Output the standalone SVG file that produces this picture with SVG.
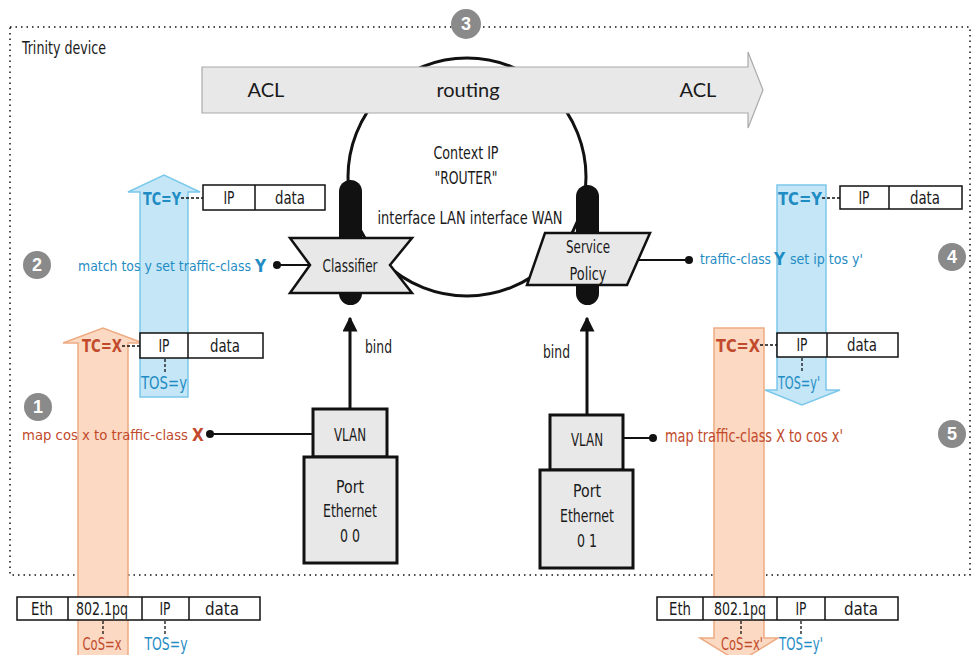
<svg xmlns="http://www.w3.org/2000/svg" width="972" height="655" viewBox="0 0 972 655">
<defs>
<style>
.t{font-family:"DejaVu Sans Condensed","Liberation Sans Narrow","Liberation Sans",sans-serif;font-size:17px;fill:#1a1a1a}
.s{font-size:14px}
.c{text-anchor:middle}
.bl{fill:#1f8cc4}
.rd{fill:#c24a2c}
.bd{font-weight:bold}
.big{font-family:"Lato","Liberation Sans",sans-serif;font-size:20px;fill:#1a1a1a;text-anchor:middle}
.num{font-family:"Liberation Sans",sans-serif;font-weight:bold;font-size:18px;fill:#fff;text-anchor:middle}
.nc{fill:#8a8a8a}
.box{fill:#e8e8e8;stroke:#111;stroke-width:3}
.pk{fill:#fff;stroke:#111;stroke-width:1.5}
.ln{stroke:#111;stroke-width:2;fill:none}
.dash{stroke:#111;stroke-width:1.3;stroke-dasharray:3 2;fill:none}
.blA{fill:#c4e6f6;stroke:#7cc8ea;stroke-width:1.5}
.orA{fill:#fbd9c3;stroke:#eeab82;stroke-width:1.5}
</style>
<marker id="ah" viewBox="0 0 10 10" refX="9" refY="5" markerWidth="5" markerHeight="5" orient="auto"><path d="M0,0 L10,5 L0,10 Z" fill="#111"/></marker>
</defs>
<rect width="972" height="655" fill="#fff"/>
<g id="border">
<rect x="10" y="27" width="960" height="548" fill="none" stroke="#111" stroke-width="1.5" stroke-dasharray="1.5 4"/>
<text class="t" x="22" y="54" textLength="84" lengthAdjust="spacingAndGlyphs">Trinity device</text>
</g>
<g id="context">
<circle cx="467" cy="177" r="119" fill="none" stroke="#111" stroke-width="3"/>
<text class="t c" x="466" y="159" textLength="65" lengthAdjust="spacingAndGlyphs">Context IP</text>
<text class="t c" x="466" y="184" textLength="63" lengthAdjust="spacingAndGlyphs">"ROUTER"</text>
<text class="t c" x="470" y="224" textLength="185" lengthAdjust="spacingAndGlyphs">interface LAN  interface WAN</text>
</g>
<g id="routing-arrow">
<path d="M202,67 H748 V52 L763,90 L748,128 V113 H202 Z" fill="#e8e8e8" stroke="#aaa" stroke-width="1.2"/>
<text class="big" x="266" y="97">ACL</text>
<text class="big" x="468" y="97">routing</text>
<text class="big" x="698" y="97">ACL</text>
</g>
<g id="flow-arrows">
<path class="orA" d="M78,656 V343 H63 L103,328 L143,343 H128 V656 Z"/>
<path class="blA" d="M140,397 V192 H128 L164,175 L200,192 H188 V397 Z"/>
<path class="blA" d="M777,185 V390 H765 L802,405 L840,390 H826 V185 Z"/>
<path class="orA" d="M714,328 V638 H700 L739,662 L778,638 H764 V328 Z"/>
</g>
<g id="connectors">
<line class="ln" x1="279" y1="265" x2="310" y2="265"/>
<circle cx="277" cy="265" r="4" fill="#111"/>
<line class="ln" x1="638" y1="260" x2="687" y2="260"/>
<circle cx="689" cy="260" r="4" fill="#111"/>
<line class="ln" x1="212" y1="434" x2="313" y2="434"/>
<circle cx="210" cy="434" r="4" fill="#111"/>
<line class="ln" x1="623" y1="438" x2="651" y2="438"/>
<circle cx="653" cy="438" r="4" fill="#111"/>
<line x1="350" y1="409" x2="350" y2="318" stroke="#111" stroke-width="3" marker-end="url(#ah)"/>
<line x1="587" y1="415" x2="587" y2="318" stroke="#111" stroke-width="3" marker-end="url(#ah)"/>
<text class="t" x="365" y="353" textLength="27" lengthAdjust="spacingAndGlyphs">bind</text>
<text class="t" x="543" y="358" textLength="27" lengthAdjust="spacingAndGlyphs">bind</text>
<line class="dash" x1="181" y1="198" x2="203" y2="198"/>
<line class="dash" x1="122" y1="346" x2="140" y2="346"/>
<line class="dash" x1="822" y1="198" x2="840" y2="198"/>
<line class="dash" x1="760" y1="345" x2="777" y2="345"/>
<line class="dash" x1="165" y1="359" x2="165" y2="373"/>
<line class="dash" x1="802" y1="358" x2="802" y2="372"/>
<line class="dash" x1="103" y1="621" x2="103" y2="634"/>
<line class="dash" x1="165" y1="621" x2="165" y2="634"/>
<line class="dash" x1="741" y1="621" x2="741" y2="634"/>
<line class="dash" x1="801" y1="621" x2="801" y2="634"/>
</g>
<g id="pill-lan"><rect x="339" y="180" width="23" height="125" rx="11.5" fill="#111"/></g>
<g id="pill-wan"><rect x="576" y="185" width="23" height="120" rx="11.5" fill="#111"/></g>
<g id="classifier">
<polygon points="290,238 412,238 390,265 412,293 290,293 310,265" fill="#e8e8e8" stroke="#111" stroke-width="2.5"/>
<text class="t c" x="350" y="272" textLength="55" lengthAdjust="spacingAndGlyphs">Classifier</text>
</g>
<g id="service-policy">
<polygon points="545,233 650,233 627,285 527,285" fill="#e8e8e8" stroke="#111" stroke-width="2.5"/>
<text class="t c" x="588" y="253" textLength="44" lengthAdjust="spacingAndGlyphs">Service</text>
<text class="t c" x="588" y="280" textLength="37" lengthAdjust="spacingAndGlyphs">Policy</text>
</g>
<g id="vlan-00"><rect class="box" x="313" y="409" width="74" height="48"/><text class="t c" x="350" y="441" textLength="32" lengthAdjust="spacingAndGlyphs">VLAN</text></g>
<g id="port-00"><rect class="box" x="304" y="457" width="93" height="106"/>
<text class="t c" x="350" y="493" textLength="28" lengthAdjust="spacingAndGlyphs">Port</text><text class="t c" x="350" y="517" textLength="54" lengthAdjust="spacingAndGlyphs">Ethernet</text><text class="t c" x="350" y="542" textLength="20" lengthAdjust="spacingAndGlyphs">0 0</text></g>
<g id="vlan-01"><rect class="box" x="550" y="415" width="73" height="55"/><text class="t c" x="587" y="446" textLength="32" lengthAdjust="spacingAndGlyphs">VLAN</text></g>
<g id="port-01"><rect class="box" x="540" y="470" width="93" height="98"/>
<text class="t c" x="587" y="497" textLength="28" lengthAdjust="spacingAndGlyphs">Port</text><text class="t c" x="587" y="522" textLength="54" lengthAdjust="spacingAndGlyphs">Ethernet</text><text class="t c" x="587" y="547" textLength="20" lengthAdjust="spacingAndGlyphs">0 1</text></g>
<g id="pkt-tl">
<rect class="pk" x="203" y="185" width="122" height="25"/><line class="pk" x1="255" y1="185" x2="255" y2="210"/>
<text class="t c" x="229" y="204" textLength="11" lengthAdjust="spacingAndGlyphs">IP</text><text class="t c" x="290" y="204" textLength="30" lengthAdjust="spacingAndGlyphs">data</text>
</g>
<g id="pkt-ml">
<rect class="pk" x="140" y="333" width="123" height="25"/><line class="pk" x1="188" y1="333" x2="188" y2="358"/>
<text class="t c" x="164" y="352" textLength="11" lengthAdjust="spacingAndGlyphs">IP</text><text class="t c" x="225" y="352" textLength="30" lengthAdjust="spacingAndGlyphs">data</text>
</g>
<g id="pkt-tr">
<rect class="pk" x="840" y="186" width="122" height="23"/><line class="pk" x1="889" y1="186" x2="889" y2="209"/>
<text class="t c" x="864" y="204" textLength="11" lengthAdjust="spacingAndGlyphs">IP</text><text class="t c" x="925" y="204" textLength="30" lengthAdjust="spacingAndGlyphs">data</text>
</g>
<g id="pkt-mr">
<rect class="pk" x="777" y="333" width="121" height="24"/><line class="pk" x1="827" y1="333" x2="827" y2="357"/>
<text class="t c" x="802" y="351" textLength="11" lengthAdjust="spacingAndGlyphs">IP</text><text class="t c" x="862" y="351" textLength="30" lengthAdjust="spacingAndGlyphs">data</text>
</g>
<g id="pkt-bl">
<rect class="pk" x="17" y="597" width="243" height="23"/>
<line class="pk" x1="68" y1="597" x2="68" y2="620"/><line class="pk" x1="142" y1="597" x2="142" y2="620"/><line class="pk" x1="189" y1="597" x2="189" y2="620"/>
<text class="t c" x="42" y="615" textLength="22" lengthAdjust="spacingAndGlyphs">Eth</text><text class="t c" x="102" y="615" textLength="52" lengthAdjust="spacingAndGlyphs">802.1pq</text><text class="t c" x="165" y="615" textLength="11" lengthAdjust="spacingAndGlyphs">IP</text><text class="t c" x="222" y="615" textLength="34" lengthAdjust="spacingAndGlyphs">data</text>
</g>
<g id="pkt-br">
<rect class="pk" x="657" y="597" width="241" height="23"/>
<line class="pk" x1="703" y1="597" x2="703" y2="620"/><line class="pk" x1="777" y1="597" x2="777" y2="620"/><line class="pk" x1="825" y1="597" x2="825" y2="620"/>
<text class="t c" x="680" y="615" textLength="22" lengthAdjust="spacingAndGlyphs">Eth</text><text class="t c" x="740" y="615" textLength="52" lengthAdjust="spacingAndGlyphs">802.1pq</text><text class="t c" x="801" y="615" textLength="11" lengthAdjust="spacingAndGlyphs">IP</text><text class="t c" x="861" y="615" textLength="34" lengthAdjust="spacingAndGlyphs">data</text>
</g>
<g id="labels">
<text class="t bl bd" x="143" y="205" textLength="38" lengthAdjust="spacingAndGlyphs">TC=Y</text>
<text class="t rd bd" x="82" y="352" textLength="40" lengthAdjust="spacingAndGlyphs">TC=X</text>
<text class="t bl bd" x="778" y="205" textLength="44" lengthAdjust="spacingAndGlyphs">TC=Y</text>
<text class="t rd bd" x="716" y="352" textLength="44" lengthAdjust="spacingAndGlyphs">TC=X</text>
<text class="t bl" x="141" y="389" textLength="46" lengthAdjust="spacingAndGlyphs">TOS=y</text>
<text class="t bl" x="778" y="389" textLength="42" lengthAdjust="spacingAndGlyphs">TOS=y'</text>
<text class="t s bl" x="78" y="271" textLength="173" lengthAdjust="spacingAndGlyphs">match tos y set traffic-class</text>
<text class="t bl bd" x="255" y="272">Y</text>
<text class="t s rd" x="22" y="440" textLength="166" lengthAdjust="spacingAndGlyphs">map cos x to traffic-class</text>
<text class="t rd bd" x="192" y="441">X</text>
<text class="t s bl" x="700" y="264" textLength="71" lengthAdjust="spacingAndGlyphs">traffic-class</text>
<text class="t bl bd" x="774" y="265">Y</text>
<text class="t s bl" x="790" y="264" textLength="73" lengthAdjust="spacingAndGlyphs">set ip tos y'</text>
<text class="t rd" x="665" y="442" textLength="178" lengthAdjust="spacingAndGlyphs">map traffic-class X to cos x'</text>
<text class="t rd c" x="102" y="650" textLength="39" lengthAdjust="spacingAndGlyphs">CoS=x</text>
<text class="t bl c" x="166" y="650" textLength="43" lengthAdjust="spacingAndGlyphs">TOS=y</text>
<text class="t rd c" x="742" y="650" textLength="42" lengthAdjust="spacingAndGlyphs">CoS=x'</text>
<text class="t bl c" x="801" y="650" textLength="44" lengthAdjust="spacingAndGlyphs">TOS=y'</text>
</g>
<g id="step-1"><circle class="nc" cx="38" cy="407" r="14"/><text class="num" x="38" y="413">1</text></g>
<g id="step-2"><circle class="nc" cx="37" cy="265" r="14"/><text class="num" x="37" y="271">2</text></g>
<g id="step-3"><circle class="nc" cx="466" cy="24" r="15"/><text class="num" x="466" y="30">3</text></g>
<g id="step-4"><circle class="nc" cx="952" cy="257" r="14"/><text class="num" x="952" y="263">4</text></g>
<g id="step-5"><circle class="nc" cx="952" cy="434" r="14"/><text class="num" x="952" y="440">5</text></g>
</svg>
